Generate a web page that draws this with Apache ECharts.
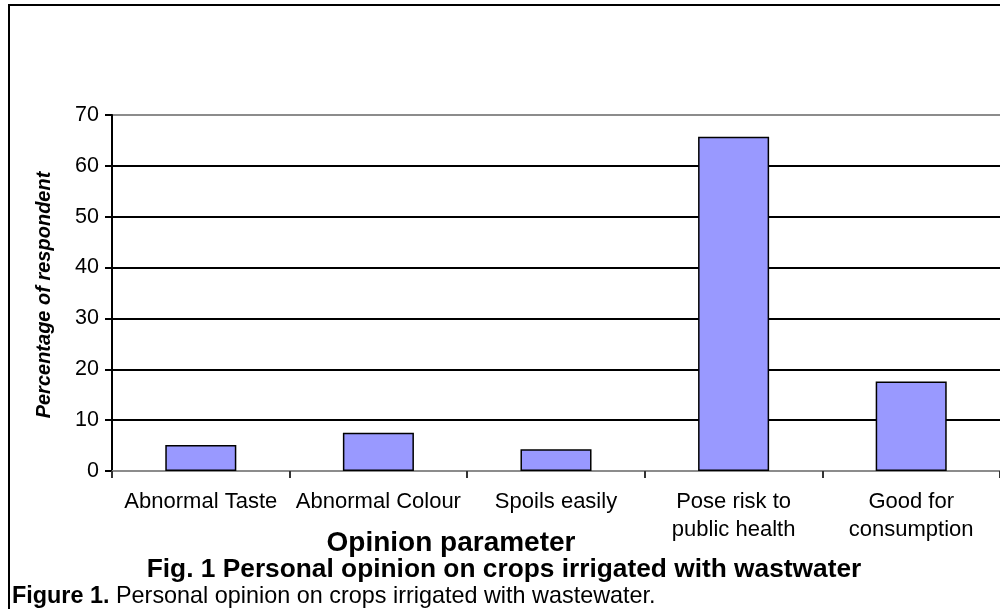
<!DOCTYPE html>
<html>
<head>
<meta charset="utf-8">
<script src="https://cdn.jsdelivr.net/npm/echarts@6/dist/echarts.min.js"></script>
<style>
  html, body { margin: 0; padding: 0; background: #fff; }
  #chart { width: 1000px; height: 609px; }
</style>
</head>
<body>
<div id="chart"></div>
<script>
// Opinion categories (x axis) and share of respondents (%)
const categories = [
  'Abnormal Taste',
  'Abnormal Colour',
  'Spoils easily',
  'Pose risk to\npublic health',
  'Good for\nconsumption'
];
const percentages = [5.1, 7.5, 4.3, 65.7, 17.6];

const yTicks = { min: 0, max: 70, interval: 10 };

const yAxisTitle = 'Percentage of respondent';
const xAxisTitle = 'Opinion parameter';
const figureTitle = 'Fig. 1 Personal opinion on crops irrigated with wastwater';
const captionLead = 'Figure 1.';
const captionText = ' Personal opinion on crops irrigated with wastewater.';

const FONT = 'Arial, "Liberation Sans", Helvetica, sans-serif';

const chart = echarts.init(document.getElementById('chart'), null, { renderer: 'canvas' });

chart.setOption({
  backgroundColor: '#ffffff',
  animation: false,
  grid: { left: 112, right: 0, top: 115, bottom: 138, containLabel: false },
  xAxis: {
    type: 'category',
    data: categories,
    axisLine: { show: true, lineStyle: { color: '#8c8c8c', width: 2 } },
    axisTick: { show: true, length: 7, lineStyle: { color: '#333', width: 2 } },
    axisLabel: {
      interval: 0,
      margin: 17,
      color: '#000',
      fontFamily: FONT,
      fontSize: 22,
      lineHeight: 28,
      align: 'center'
    },
    splitLine: { show: false }
  },
  yAxis: {
    type: 'value',
    min: yTicks.min,
    max: yTicks.max,
    interval: yTicks.interval,
    axisLine: { show: true, lineStyle: { color: '#000', width: 2 } },
    axisTick: { show: true, length: 7, lineStyle: { color: '#000', width: 2 } },
    axisLabel: {
      margin: 13,
      color: '#000',
      fontFamily: FONT,
      fontSize: 21.5
    },
    splitLine: {
      show: true,
      lineStyle: {
        color: ['#8c8c8c', '#000', '#000', '#000', '#000', '#000', '#000', '#8c8c8c'],
        width: 2
      }
    }
  },
  series: [{
    type: 'bar',
    data: percentages,
    barWidth: '40%',
    itemStyle: { color: '#9999ff', borderColor: '#000', borderWidth: 1.5 },
    z: 3
  }],
  graphic: [
    {
      type: 'rect',
      shape: { x: 9, y: 5, width: 1200, height: 800 },
      style: { fill: 'none', stroke: '#000', lineWidth: 2 },
      silent: true,
      z: 100
    },
    {
      type: 'text',
      x: 44, y: 295,
      rotation: Math.PI / 2,
      style: {
        text: yAxisTitle,
        fontFamily: FONT,
        fontSize: 20,
        fontWeight: 'bold',
        fontStyle: 'italic',
        fill: '#000',
        align: 'center',
        verticalAlign: 'middle'
      }
    },
    {
      type: 'text',
      x: 451, y: 543,
      style: {
        text: xAxisTitle,
        fontFamily: FONT,
        fontSize: 28,
        fontWeight: 'bold',
        fill: '#000',
        align: 'center',
        verticalAlign: 'middle'
      }
    },
    {
      type: 'text',
      x: 504, y: 570,
      style: {
        text: figureTitle,
        fontFamily: FONT,
        fontSize: 26.3,
        fontWeight: 'bold',
        fill: '#000',
        align: 'center',
        verticalAlign: 'middle'
      }
    },
    {
      type: 'text',
      x: 12, y: 597,
      style: {
        text: '{b|' + captionLead + '}{n|' + captionText + '}',
        align: 'left',
        verticalAlign: 'middle',
        rich: {
          b: { fontFamily: FONT, fontSize: 23.4, fontWeight: 'bold', fill: '#000' },
          n: { fontFamily: FONT, fontSize: 23.4, fill: '#000' }
        }
      }
    }
  ]
});
</script>
</body>
</html>
